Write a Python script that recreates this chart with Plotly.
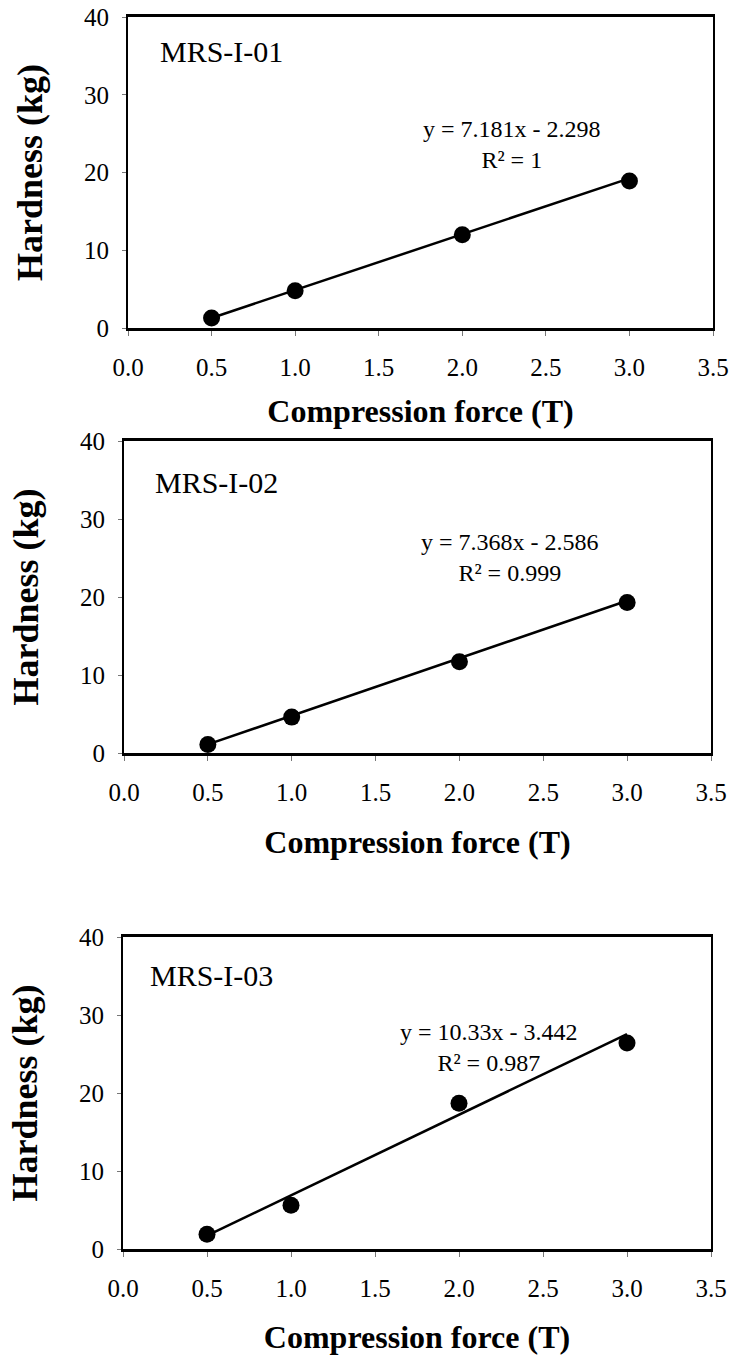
import plotly.graph_objects as go

# Compression force (T) and measured tablet hardness (kg) for each formulation
force = [0.5, 1.0, 2.0, 3.0]
hardness_01 = [1.3, 4.8, 12.0, 18.9]
hardness_02 = [1.1, 4.6, 11.7, 19.3]
hardness_03 = [1.9, 5.6, 18.7, 26.4]

names = ["MRS-I-01", "MRS-I-02", "MRS-I-03"]
slopes = [7.181, 7.368, 10.33]
intercepts = [-2.298, -2.586, -3.442]
r_squared = ["1", "0.999", "0.987"]
equations = ["y = 7.181x - 2.298", "y = 7.368x - 2.586", "y = 10.33x - 3.442"]

x_ticks = [0.0, 0.5, 1.0, 1.5, 2.0, 2.5, 3.0, 3.5]
y_ticks = [0, 10, 20, 30, 40]

W, H = 729, 1357
# panel boxes in pixels: (left, right, top, bottom)
boxes = [(128, 713, 17, 328), (124, 711, 441, 753), (123, 711, 937, 1249)]
label_pos = [(0.18, 35.5), (0.17, 34.7), (0.15, 35.1)]
eq_pos = [(2.30, 23.6), (2.30, 25.1), (2.18, 25.8)]
title_standoff = [20, 26, 25]

series = [hardness_01, hardness_02, hardness_03]
SERIF = "Liberation Serif, Times New Roman, serif"

fig = go.Figure()
for i, (ys, m, b) in enumerate(zip(series, slopes, intercepts)):
    xa = "x" if i == 0 else f"x{i + 1}"
    ya = "y" if i == 0 else f"y{i + 1}"
    fit_x = [force[0], force[-1]]
    fit_y = [m * v + b for v in fit_x]
    fig.add_trace(go.Scatter(x=fit_x, y=fit_y, mode="lines",
                             line=dict(color="black", width=2.5),
                             xaxis=xa, yaxis=ya, showlegend=False))
    fig.add_trace(go.Scatter(x=force, y=ys, mode="markers",
                             marker=dict(color="black", size=17),
                             xaxis=xa, yaxis=ya, showlegend=False))

    l, r, t, btm = boxes[i]
    xkey = "xaxis" if i == 0 else f"xaxis{i + 1}"
    ykey = "yaxis" if i == 0 else f"yaxis{i + 1}"
    fig.layout[xkey] = dict(
        domain=[l / W, r / W], range=[0, 3.5], anchor=ya,
        tickvals=x_ticks, ticktext=[f"{v:.1f}" for v in x_ticks],
        ticks="outside", ticklen=5, tickcolor="#777", tickwidth=1,
        ticklabelstandoff=10,
        showline=True, linecolor="black", linewidth=2.5, mirror=True,
        showgrid=False, zeroline=False, automargin=False,
        tickfont=dict(family=SERIF, size=25, color="black"),
        title=dict(text="<b>Compression force (T)</b>", standoff=title_standoff[i],
                   font=dict(family=SERIF, size=32, color="black")),
    )
    fig.layout[ykey] = dict(
        domain=[1 - btm / H, 1 - t / H], range=[0, 40], anchor=xa,
        tickvals=y_ticks, ticks="outside", ticklen=4, tickcolor="#777", tickwidth=1,
        ticklabelstandoff=8,
        showline=True, linecolor="black", linewidth=2, mirror=True,
        showgrid=False, zeroline=False, automargin=False,
        tickfont=dict(family=SERIF, size=25, color="black"),
        title=dict(text="<b>Hardness (kg)</b>", standoff=30,
                   font=dict(family=SERIF, size=36, color="black")),
    )
    lx, ly = label_pos[i]
    fig.add_annotation(x=lx, y=ly, xref=xa, yref=ya, text=names[i],
                       showarrow=False, xanchor="left", yanchor="middle",
                       font=dict(family=SERIF, size=30, color="black"))
    ex, ey = eq_pos[i]
    fig.add_annotation(x=ex, y=ey, xref=xa, yref=ya,
                       text=f"{equations[i]}<br>R² = {r_squared[i]}",
                       showarrow=False, xanchor="center", yanchor="middle",
                       align="center",
                       font=dict(family=SERIF, size=24, color="black"))

fig.update_layout(width=W, height=H, margin=dict(l=0, r=0, t=0, b=0),
                  paper_bgcolor="white", plot_bgcolor="white",
                  showlegend=False)
fig.write_html("out.html")
